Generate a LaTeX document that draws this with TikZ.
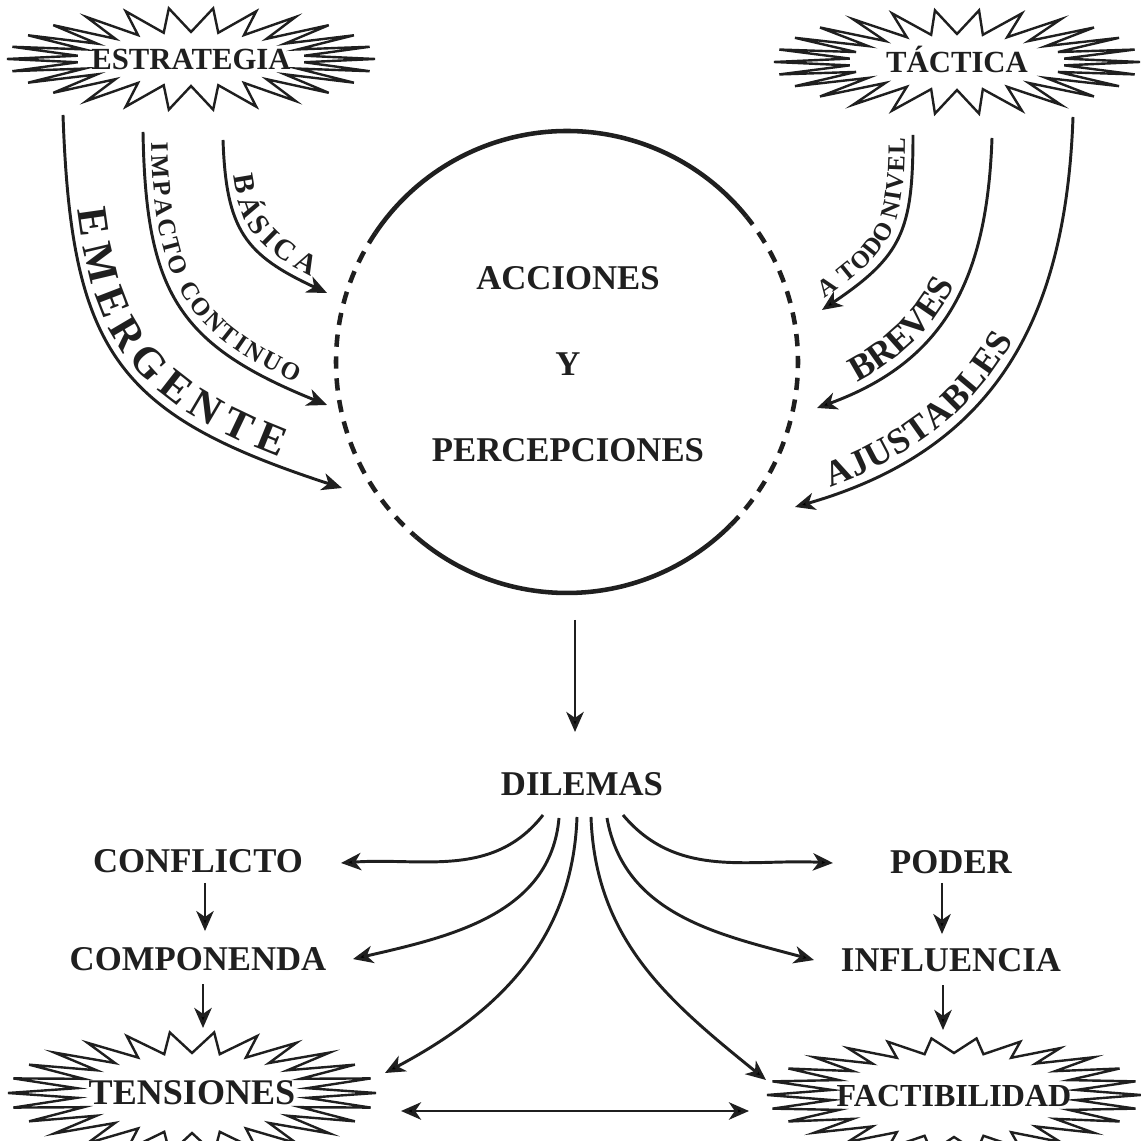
\documentclass[tikz,border=0pt]{standalone}
\usepackage{fontspec}
\setmainfont{Liberation Serif}
\usepackage{tikz}
\usetikzlibrary{positioning,arrows.meta,calc,decorations.text}

\begin{document}
\begin{tikzpicture}[x=0.01315cm, y=0.01315cm,
  >={Stealth[length=7.5pt, width=6.5pt, inset=2.2pt]},
  lbl/.style={font=\bfseries\fontsize{13}{15}\selectfont, text height=8.6pt, text depth=0pt, inner sep=0pt, text=black!88},
  burstlbl/.style={lbl, font=\bfseries\fontsize{11.5}{13}\selectfont, text height=7.6pt},
  arr/.style={->, draw=black!88, line width=1.1pt},
  burstline/.style={draw=black!88, line width=0.9pt, line join=miter},
  ring/.style={draw=black!88, line width=1.7pt},
  ringdash/.style={ring, dash pattern=on 4.6pt off 3.6pt},
  arctext/.style n args={4}{decorate, decoration={text along path, raise=3pt,
    text color=black!88, text align={fit to path, left indent=#1, right indent=#2},
    text={|\bfseries\fontsize{#3}{#3}\selectfont|#4}}}]
\useasboundingbox (0,0) rectangle (1141,1141);

% labels
\node[burstlbl] (estr) at (191,1082) {ESTRATEGIA};
\node[burstlbl] (tact) at (957,1079) {TÁCTICA};
\node[lbl, font=\bfseries\fontsize{13.5}{15}\selectfont] (tens) at (192,48) {TENSIONES};
\node[lbl, font=\bfseries\fontsize{12}{14}\selectfont] (fact) at (954,46) {FACTIBILIDAD};
\node[lbl] (acc) at (568,863) {ACCIONES};
\node[lbl, below=23.2pt of acc] (yy) {Y};
\node[lbl, below=23.2pt of yy] (perc) {PERCEPCIONES};
\node[lbl] (dil) at (582,357) {DILEMAS};
\node[lbl] (conf) at (198,280) {CONFLICTO};
\node[lbl, below=27.7pt of conf] (comp) {COMPONENDA};
\node[lbl] (pod) at (951,279) {PODER};
\node[lbl, below=27.7pt of pod] (infl) {INFLUENCIA};

% starbursts round the four corner labels
\foreach \n/\ao/\ai/\bo/\bi in {estr/184/114/51/27, tact/183/108/52/28, tens/184/116/61/40, fact/187/123/57/42}
  \draw[burstline, shift={(\n.center)}] plot[domain=0:360, samples=53]
    ({((\ao+\ai)/2+(\ao-\ai)/2*cos(26*\x))*cos(\x)}, {((\bo+\bi)/2+(\bo-\bi)/2*cos(26*\x))*sin(\x)}) -- cycle;

% circle: solid top and bottom, dashed sides
\coordinate (cen) at (567,779);
\draw[ring] ([shift={(39:231)}]cen) arc[start angle=39, end angle=146, radius=231];
\draw[ring] ([shift={(229:231)}]cen) arc[start angle=229, end angle=315, radius=231];
\draw[ringdash] ([shift={(146:231)}]cen) arc[start angle=146, end angle=229, radius=231];
\draw[ringdash] ([shift={(-45:231)}]cen) arc[start angle=-45, end angle=39, radius=231];

% strategy arcs
\coordinate (bas0) at ($(estr.center)+(32,-81)$);
\coordinate (bas1) at ($(cen)+(-240,69)$);
\coordinate (imp0) at ($(estr.center)+(-48,-73)$);
\coordinate (imp1) at ($(cen)+(-240,-43)$);
\coordinate (eme0) at ($(estr.center)+(-128,-56)$);
\coordinate (eme1) at ($(cen)+(-225,-126)$);
\draw[arr] (bas0) to[out=-88, in=155, looseness=1.25] (bas1);
\draw[arr] (imp0) to[out=-89, in=158, looseness=1.25] (imp1);
\draw[arr] (eme0) to[out=-88, in=162, looseness=1.3] (eme1);
\path[arctext={14pt}{8pt}{11}{BÁSICA}] (bas0) to[out=-88, in=155, looseness=1.25] (bas1);
\path[arctext={4pt}{14pt}{9.4}{IMPACTO CONTINUO}] (imp0) to[out=-89, in=158, looseness=1.25] (imp1);
\path[arctext={36pt}{26pt}{16}{EMERGENTE}] (eme0) to[out=-88, in=162, looseness=1.3] (eme1);

% tactic arcs
\coordinate (tod0) at ($(tact.center)+(-44,-73)$);
\coordinate (tod1) at ($(cen)+(255,52)$);
\coordinate (bre0) at ($(tact.center)+(35,-76)$);
\coordinate (bre1) at ($(cen)+(250,-46)$);
\coordinate (aju0) at ($(tact.center)+(116,-55)$);
\coordinate (aju1) at ($(cen)+(228,-145)$);
\draw[arr, <-] (tod1) to[out=34, in=-90, looseness=1.25] (tod0);
\draw[arr, <-] (bre1) to[out=20, in=-92, looseness=1.1] (bre0);
\draw[arr, <-] (aju1) to[out=16, in=-92, looseness=1.1] (aju0);
\path[arctext={3pt}{1pt}{9.3}{A TODO NIVEL}] (tod1) to[out=34, in=-90, looseness=1.25] (tod0);
\path[arctext={18pt}{58pt}{13.5}{BREVES}] (bre1) to[out=20, in=-92, looseness=1.1] (bre0);
\path[arctext={15pt}{88pt}{13.5}{AJUSTABLES}] (aju1) to[out=16, in=-92, looseness=1.1] (aju0);

% down to the dilemmas and the fan below
\draw[arr] ($(cen)+(8,-258)$) -- ($(dil.center)+(-7,52)$);
\foreach \sx/\sy/\tn/\ex/\ey/\oa/\ia in {-39/-31/conf/143/-2/-128/4, -23/-34/comp/155/0/-95/13,
    -5/-33/tens/193/20/-92/28, 9/-33/fact/-188/15/-88/141, 25/-34/infl/-137/0/-80/165, 41/-31/pod/-118/-1/-50/177}
  \draw[arr] ($(dil.center)+(\sx,\sy)$) to[out=\oa, in=\ia] ($(\tn.center)+(\ex,\ey)$);

\draw[arr] ($(conf.center)+(7,-22)$) -- ($(comp.center)+(7,28)$);
\draw[arr] ($(comp.center)+(5,-25)$) -- ($(tens.center)+(11,65)$);
\draw[arr] ($(pod.center)+(-9,-21)$) -- ($(infl.center)+(-9,26)$);
\draw[arr] ($(infl.center)+(-8,-25)$) -- ($(fact.center)+(-11,65)$);
\draw[arr, <->] ($(tens.center)+(209,-18)$) -- ($(fact.center)+(-205,-16)$);
\end{tikzpicture}
\end{document}
